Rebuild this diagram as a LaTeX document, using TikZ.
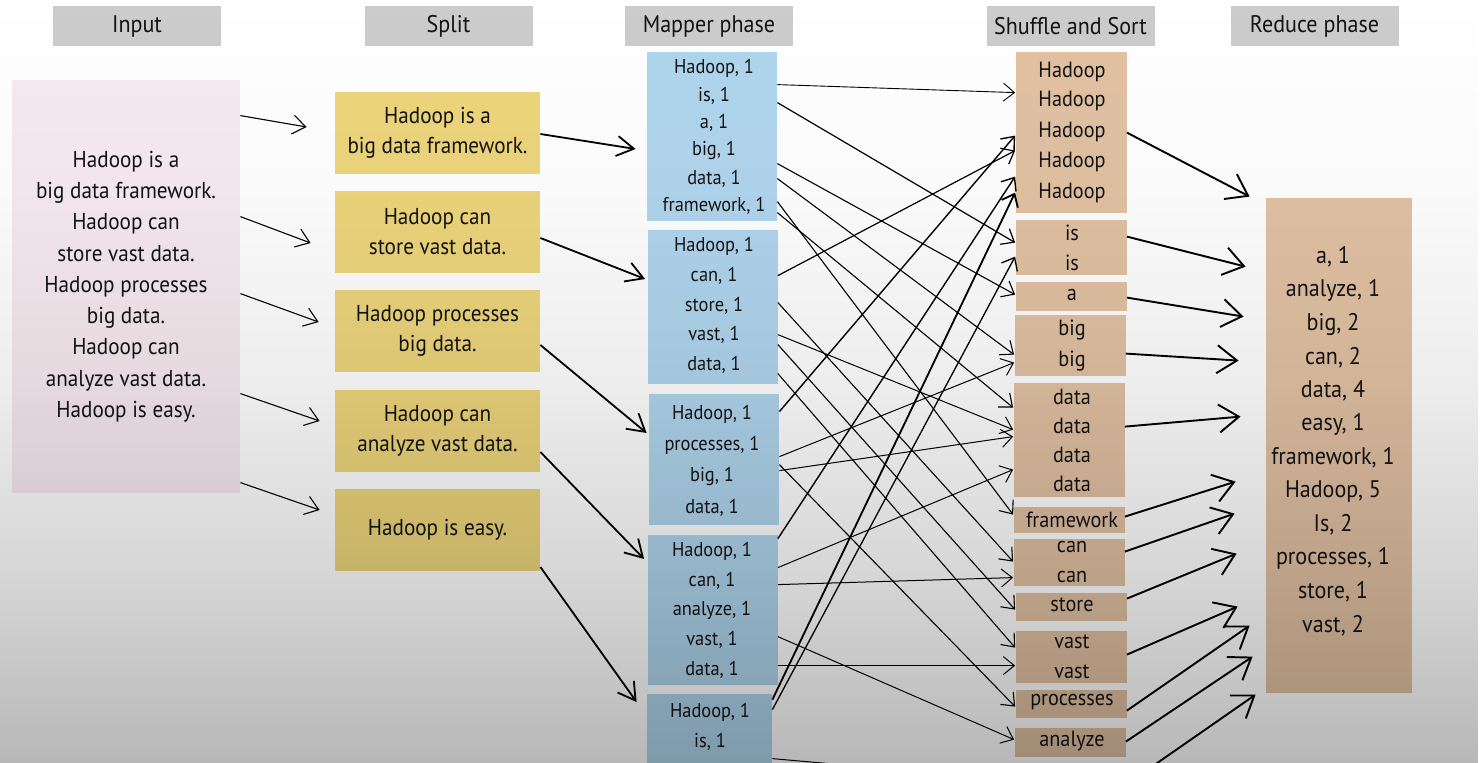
\documentclass[tikz,border=0pt]{standalone}
\usepackage{fontspec}
\setmainfont{PT Sans}[FakeStretch=0.92]
\usetikzlibrary{arrows.meta, fadings}
\definecolor{headgray}{RGB}{204,204,204}
\definecolor{blush}{RGB}{247,234,240}
\definecolor{butter}{RGB}{238,214,124}
\definecolor{sky}{RGB}{176,214,238}
\definecolor{sand}{RGB}{226,194,163}
\definecolor{ink}{RGB}{20,20,20}
\pgfdeclareverticalshading{dimshade}{100bp}{color(0bp)=(transparent!72); color(37.5bp)=(transparent!72);
    color(43.75bp)=(transparent!84); color(50bp)=(transparent!93); color(56.25bp)=(transparent!98);
    color(62.5bp)=(transparent!100); color(100bp)=(transparent!100)}
\begin{tikzfadingfrompicture}[name=dim]
    \shade[shading=dimshade] (-50bp,-50bp) rectangle (50bp,50bp);
\end{tikzfadingfrompicture}

\begin{document}
\begin{tikzpicture}[x=1pt, y=-1pt, thick, text=ink,
    phase/.style={fill=headgray, minimum width=168, minimum height=40, inner sep=0, font=\fontsize{24}{30}\selectfont},
    chunk/.style={fill=butter, minimum width=205, minimum height=82, inner sep=0, align=center, font=\fontsize{23}{30}\selectfont},
    mapbox/.style={fill=sky, minimum width=130, inner sep=0},
    sortbox/.style={fill=sand, minimum width=111, inner sep=0},
    pair/.style={inner sep=0, font=\fontsize{20}{24}\selectfont},
    word/.style={inner sep=0, font=\fontsize{22}{26}\selectfont},
    total/.style={inner sep=0, font=\fontsize{24}{30}\selectfont},
    feedarrow/.style={-{Straight Barb[length=13pt,width=19pt]}, line width=1.1pt},
    splitarrow/.style={-{Straight Barb[length=17pt,width=20pt]}, line width=1.8pt},
    pairarrow/.style={-{Straight Barb[length=11pt,width=18pt]}},
    sumarrow/.style={-{Straight Barb[length=20pt,width=28pt]}, line width=1.9pt}]

    \useasboundingbox (0,0) rectangle (1484,763);
    \fill[white] (0,0) rectangle (1484,763);

    % headers
    \node[phase] (hin) at (137,26) {Input};
    \node[phase] (hsplit) at (448.5,26) {Split};
    \node[phase] (hmap) at (709,26) {Mapper phase};
    \node[phase] (hsort) at (1070.5,26) {Shuffle and Sort};
    \node[phase] (hred) at (1314.5,26) {Reduce phase};

    \node[fill=blush, minimum width=228, minimum height=413, inner sep=0, align=center,
        font=\fontsize{23}{31.25}\selectfont] (input) at (126,286.5)
        {Hadoop is a\\big data framework.\\Hadoop can\\store vast data.\\Hadoop processes\\big data.\\Hadoop can\\analyze vast data.\\Hadoop is easy.};

    \node[chunk] (s1) at (437.5,133) {Hadoop is a\\big data framework.};
    \node[chunk] (s2) at (437.5,232) {Hadoop can\\store vast data.};
    \node[chunk] (s3) at (437.5,331) {Hadoop processes\\big data.};
    \node[chunk] (s4) at (437.5,431) {Hadoop can\\analyze vast data.};
    \node[chunk] (s5) at (437.5,530) {Hadoop is easy.};

    \node[mapbox, minimum height=169] (m1) at (712,136.5) {};
    \node[mapbox, minimum height=154] (m2) at (712.5,307) {};
    \node[mapbox, minimum height=131] (m3) at (714,459.5) {};
    \node[mapbox, minimum height=150] (m4) at (712.5,610) {};
    \node[mapbox, minimum height=76, minimum width=125] (m5) at (709.5,732) {};
    \foreach \w [count=\i] in {Hadoop, is, a, big, data, framework}
        \node[pair] at (714, 40.4+27.6*\i) {\w, 1};
    \foreach \w [count=\i] in {Hadoop, can, store, vast, data}
        \node[pair] at (714, 216.25+29.75*\i) {\w, 1};
    \foreach \w [count=\i] in {Hadoop, processes, big, data}
        \node[pair] at (712, 382.7+31.3*\i) {\w, 1};
    \foreach \w [count=\i] in {Hadoop, can, analyze, vast, data}
        \node[pair] at (712, 521.25+29.75*\i) {\w, 1};
    \foreach \w [count=\i] in {Hadoop, is}
        \node[pair] at (710, 682+30*\i) {\w, 1};

    \node[sortbox, minimum height=161] (shHadoop) at (1071,132.5) {};
    \node[sortbox, minimum height=55] (shIs) at (1071,247.5) {};
    \node[sortbox, minimum height=29] (shA) at (1071,296.5) {};
    \node[sortbox, minimum height=61] (shBig) at (1070,345.5) {};
    \node[sortbox, minimum height=114] (shData) at (1069,440) {};
    \node[sortbox, minimum height=26] (shFrame) at (1069,520) {};
    \node[sortbox, minimum height=47] (shCan) at (1069,562.5) {};
    \node[sortbox, minimum height=28] (shStore) at (1071,607) {};
    \node[sortbox, minimum height=52] (shVast) at (1071,657) {};
    \node[sortbox, minimum height=28] (shProc) at (1071,704) {};
    \node[sortbox, minimum height=29] (shAnal) at (1070,742.5) {};
    \foreach \w/\y in {Hadoop/72, Hadoop/101, Hadoop/132, Hadoop/162, Hadoop/193, is/233, is/263,
        a/295, big/330, big/361, data/397, data/426, data/455, data/484, framework/520,
        can/547, can/577, store/605, vast/642, vast/672, processes/702, analyze/741}
        \node[word] at (1072,\y) {\w};

    \node[fill=sand, minimum width=146, minimum height=495, inner sep=0] (reduce) at (1339,445.5) {};
    \foreach \w/\n [count=\i] in {a/1, analyze/1, big/2, can/2, data/4, easy/1, framework/1,
        Hadoop/5, Is/2, processes/1, store/1, vast/2}
        \node[total] at (1333, 223.5+33.5*\i) {\w, \n};

    % input -> split
    \foreach \s/\a/\dx/\dy in {s1/36/-28/-6, s2/137/-24/11, s3/214/-16/-9, s4/314/-15/-10, s5/403/-15/-20}
        \draw[feedarrow] ([shift={(0,\a)}]input.north east) -- ([shift={(\dx,\dy)}]\s.west);

    % split -> mapper
    \foreach \s/\a/\m/\dx/\dy in {s1/1/m1/-11/12.5, s2/6/m2/-2/-28, s3/14/m3/-2/-26.5,
        s4/21/m4/-3/-51, s5/37/m5/-10/-30}
        \draw[splitarrow] ([shift={(0,\a)}]\s.east) -- ([shift={(\dx,\dy)}]\m.west);

    % mapper -> shuffle
    \foreach \m/\a/\s/\b/\lw in {m1/33/shHadoop/41/0.9, m1/51/shIs/23/1.2, m1/112/shA/13/1.1,
        m1/127/shBig/40/1.1, m1/150/shFrame/8/1.1, m1/161/shData/25/1.1,
        m2/46/shHadoop/99/1.2, m2/73/shCan/23/1.1, m2/105/shData/47/1, m2/115/shStore/17/1.1,
        m2/144/shVast/17/1.1,
        m3/18/shHadoop/84/1.4, m3/63/shBig/48/1, m3/71/shProc/17/1.1, m3/77/shData/54/1,
        m4/4/shHadoop/125/1.4, m4/33/shData/87/1, m4/50/shCan/39/1, m4/102/shAnal/12/1,
        m4/131/shVast/35/1,
        m5/6/shHadoop/141/1.8, m5/16/shIs/37/1.3}
        \draw[pairarrow, line width=\lw pt] ([shift={(0,\a)}]\m.north east) -- ([shift={(0,\b)}]\s.north west);
    \coordinate (easyIn) at (1015,780);
    \draw[pairarrow, line width=1pt] ([shift={(0,65)}]m5.north east) -- (easyIn);

    % shuffle -> reduce
    \foreach \s/\a/\dx/\dy in {shHadoop/81/-16/-1, shIs/17/-20/69, shA/16/-22/119, shBig/39/-27/163,
        shData/44/-25/219, shFrame/10/-30/284, shCan/13/-31/316, shStore/6/-29/356,
        shVast/24/-28/409, shProc/21/-16/428, shAnal/14/-13/459}
        \draw[sumarrow] ([shift={(0,\a)}]\s.north east) -- ([shift={(\dx,\dy)}]reduce.north west);
    \coordinate (easyOut) at (1127,784);
    \draw[sumarrow] (easyOut) -- ([shift={(-10,497)}]reduce.north west);

    \fill[black, path fading=dim] (0,0) rectangle (1484,763);
\end{tikzpicture}
\end{document}
